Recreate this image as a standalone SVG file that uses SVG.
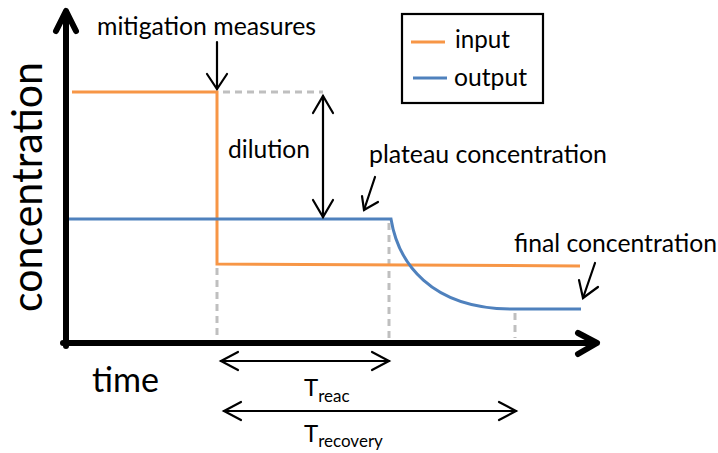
<svg xmlns="http://www.w3.org/2000/svg" width="718" height="453" viewBox="0 0 718 453">
<style>
text{font-family:Lato,"Open Sans","Liberation Sans",sans-serif;fill:#000}
.lbl{font-size:25px}
.axis{stroke:#000;stroke-width:6;fill:none;stroke-linecap:round;stroke-linejoin:round}
.thin{stroke:#000;stroke-width:2.2;fill:none;stroke-linecap:round;stroke-linejoin:miter}
.dash{stroke:#BFBFBF;stroke-width:3;stroke-dasharray:7,5;fill:none}
.in{stroke:#F79646;stroke-width:3;fill:none}
.out{stroke:#4F81BD;stroke-width:3;fill:none}
</style>
<rect width="718" height="453" fill="#fff"/>
<g id="guides">
<line class="dash" x1="223" y1="92" x2="323" y2="92"/>
<line class="dash" x1="217" y1="268" x2="217" y2="338"/>
<line class="dash" x1="389" y1="223" x2="389" y2="338"/>
<line class="dash" x1="515" y1="313" x2="515" y2="338"/>
</g>
<g id="axes">
<line class="axis" x1="66" y1="346" x2="66" y2="12"/>
<polyline class="axis" points="56,31 66,11 76,31"/>
<line class="axis" x1="63" y1="343" x2="595" y2="343"/>
<polyline class="axis" points="578,333 597,343 578,354"/>
</g>
<g id="input">
<polyline class="in" points="72,92 217,92 217,264 580,266"/>
</g>
<g id="output">
<path class="out" d="M69,219 L391,219 C398,262 430,309 512,309 L581,309"/>
</g>
<g id="connectors">
<line class="thin" x1="217" y1="42" x2="217" y2="89"/>
<polyline class="thin" points="207,74 217,89 227,74"/>
<line class="thin" x1="323" y1="96" x2="323" y2="217"/>
<polyline class="thin" points="313,113 323,96 333,113"/>
<polyline class="thin" points="313,200 323,217 333,200"/>
<line class="thin" x1="375" y1="177" x2="364" y2="210"/>
<polyline class="thin" points="362,196 364,210 378,202"/>
<line class="thin" x1="595" y1="263" x2="583" y2="298"/>
<polyline class="thin" points="579,280 583,298 598,287"/>
<line class="thin" x1="221" y1="361" x2="389" y2="361"/>
<polyline class="thin" points="238,352 221,361 238,370"/>
<polyline class="thin" points="372,352 389,361 372,370"/>
<line class="thin" x1="224" y1="411" x2="516" y2="411"/>
<polyline class="thin" points="241,402 224,411 241,420"/>
<polyline class="thin" points="499,402 516,411 499,420"/>
</g>
<g id="legend">
<rect x="402" y="14" width="141" height="89" fill="none" stroke="#000" stroke-width="2.2"/>
<line class="in" x1="411" y1="42" x2="445" y2="42"/>
<line class="out" x1="413" y1="78" x2="447" y2="78"/>
<text class="lbl" x="455" y="48" textLength="55" lengthAdjust="spacingAndGlyphs">input</text>
<text class="lbl" x="454" y="86" textLength="73" lengthAdjust="spacingAndGlyphs">output</text>
</g>
<g id="labels">
<text class="lbl" x="97" y="35" textLength="219" lengthAdjust="spacingAndGlyphs">mitigation measures</text>
<text class="lbl" x="228" y="158" textLength="82" lengthAdjust="spacingAndGlyphs">dilution</text>
<text class="lbl" x="369" y="163" textLength="238" lengthAdjust="spacingAndGlyphs">plateau concentration</text>
<text class="lbl" x="514" y="252" textLength="203" lengthAdjust="spacingAndGlyphs">final concentration</text>
<text transform="translate(42,312) rotate(-90)" x="0" y="0" font-size="43" textLength="250" lengthAdjust="spacingAndGlyphs">concentration</text>
<text x="92" y="392" font-size="35" textLength="67" lengthAdjust="spacingAndGlyphs">time</text>
<text x="304" y="396" font-size="24">T<tspan font-size="17" dy="6">reac</tspan></text>
<text x="304" y="442" font-size="24">T<tspan font-size="17" dy="5">recovery</tspan></text>
</g>
</svg>
